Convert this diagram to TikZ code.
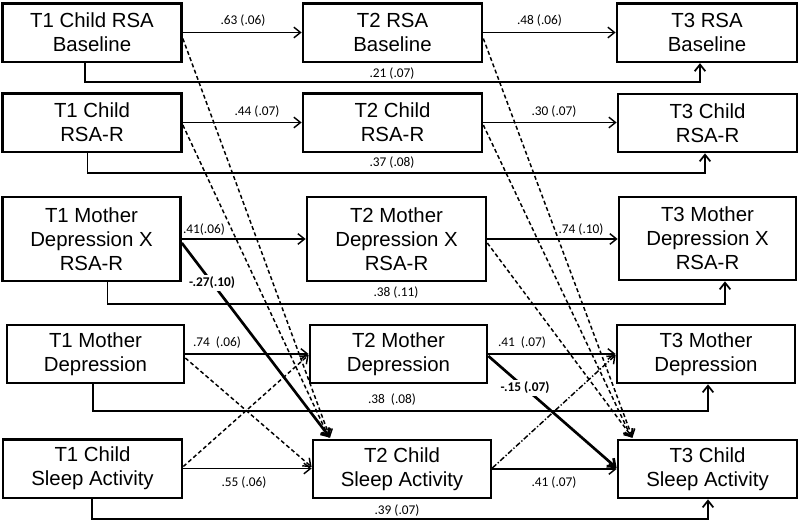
\documentclass[tikz,border=0pt]{standalone}
\usepackage{fontspec}
\setmainfont{Liberation Sans}
\newfontfamily\lblfont{Carlito}
\usetikzlibrary{arrows.meta,calc}
\begin{document}
\begin{tikzpicture}[x=0.75pt,y=-0.75pt,
  box/.style={draw, line width=2pt, align=center, inner sep=0pt,
    minimum width=134.25pt, minimum height=44pt,
    font=\fontsize{15.3}{18}\selectfont},
  tall/.style={minimum height=63pt},
  tip/.style={-{Straight Barb[length=5pt,width=8pt]}},
  arr/.style={line width=1.1pt, tip},
  conn/.style={line width=1.3pt, tip},
  dsh/.style={line width=1.1pt, dash pattern=on 3pt off 2pt, tip},
  dd/.style={line width=1.1pt, dash pattern=on 4pt off 1.5pt on 1pt off 1.5pt, tip},
  thk/.style={line width=2pt, tip},
  lbl/.style={font=\lblfont\fontsize{10}{12}\selectfont, inner sep=1pt},
  blbl/.style={font=\lblfont\bfseries\fontsize{10}{12}\selectfont, inner sep=1.5pt, fill=white}
]
\useasboundingbox (0,0) rectangle (800,521);

% T1 column
\node[box] (a1) at (92,32.5) {T1 Child RSA\\Baseline};
\node[box] (b1) at (92,122.5) {T1 Child\\RSA-R};
\node[box,tall,minimum width=133.5pt] (c1) at (91.5,239) {T1 Mother\\Depression X\\RSA-R};
\node[box,minimum width=132.75pt,minimum height=43.5pt] (d1) at (95.5,354) {T1 Mother\\Depression};
\node[box] (e1) at (92.5,468.5) {T1 Child\\Sleep Activity};

% T2 column
\node[box] (a2) at (392.5,32.5) {T2 RSA\\Baseline};
\node[box] (b2) at (392.5,122.5) {T2 Child\\RSA-R};
\node[box,tall] (c2) at (396.5,239) {T2 Mother\\Depression X\\RSA-R};
\node[box,minimum width=132.75pt,minimum height=43.5pt] (d2) at (398.5,354) {T2 Mother\\Depression};
\node[box,minimum width=133.5pt,minimum height=43.5pt] (e2) at (402,469) {T2 Child\\Sleep Activity};

% T3 column
\node[box,minimum width=135pt] (a3) at (707,32.5) {T3 RSA\\Baseline};
\node[box,minimum height=43.5pt] (b3) at (707.5,123) {T3 Child\\RSA-R};
\node[box,tall,minimum width=132.75pt,minimum height=62.25pt] (c3) at (707.5,238.5) {T3 Mother\\Depression X\\RSA-R};
\node[box,minimum width=133.5pt,minimum height=43.5pt] (d3) at (706,354) {T3 Mother\\Depression};
\node[box,minimum height=43.5pt] (e3) at (707.5,469) {T3 Child\\Sleep Activity};

% horizontal stability paths
\draw[arr] (a1.east) -- (a1.east -| a2.west);
\draw[arr] (a2.east) -- (a2.east -| a3.west);
\draw[arr] (b1.east) -- (b1.east -| b2.west);
\draw[arr] (b2.east) -- (b2.east -| b3.west);
\draw[arr] (c1.east) -- (c1.east -| c2.west);
\draw[arr] (c2.east) -- (c2.east -| c3.west);
\draw[arr] (d1.east) -- (d1.east -| d2.west);
\draw[arr] (d2.east) -- (d2.east -| d3.west);
\draw[arr] (e1.east) -- (e1.east -| e2.west);
\draw[arr] (e2.east) -- (e2.east -| e3.west);

% long T1 -> T3 paths
\draw[conn] ($(a1.south)+(-7,0)$) -- ++(0,19) -| ($(a3.south)+(-7,0)$);
\draw[conn] ($(b1.south)+(-4.5,0)$) -- ++(0,20) -| ($(b3.south)+(-2.5,0)$);
\draw[conn] ($(c1.south)+(16,0)$) -- ++(0,22) -| ($(c3.south)+(17.5,0)$);
\draw[conn] ($(d1.south)+(-2.5,0)$) -- ++(0,27) -| ($(d3.south)+(2,0)$);
\draw[conn] ($(e1.south)+(-0.5,0)$) -- ++(0,20) -| ($(e3.south)+(0.5,0)$);

% cross-lagged T1 -> T2
\draw[dsh] ($(a1.east)+(0,6)$) -- ($(e2.north)+(-72,-1)$);
\draw[dsh] ($(b1.east)+(0,2.5)$) -- ($(e2.north)+(-73,-1)$);
\draw[thk] ($(c1.east)+(0,4)$) -- node[blbl,pos=0.204] {-.27(.10)} ($(e2.north)+(-72,-1)$);
\draw[dsh] ($(d1.east)+(0,4)$) -- ($(e2.west)+(0,-2)$);
\draw[dsh] ($(e1.east)+(0,-2)$) -- ($(d2.west)+(0,1)$);

% cross-lagged T2 -> T3
\draw[dsh] ($(a2.east)+(0,6)$) -- ($(e3.north)+(-75,-1)$);
\draw[dsh] ($(b2.east)+(0,2.5)$) -- ($(e3.north)+(-76,-1)$);
\draw[dsh] ($(c2.east)+(0,4)$) -- ($(e3.north)+(-75,-1)$);
\draw[thk] ($(d2.east)+(0,2)$) -- node[blbl,pos=0.286] {-.15 (.07)} ($(e3.west)+(0,-1)$);
\draw[dd] ($(e2.east)+(0,-1)$) -- ($(d3.west)+(0,1)$);

% labels
\node[lbl] (l1) at (243,21) {.63 (.06)};
\node[lbl] (l2) at (539.5,21) {.48 (.06)};
\node[lbl] (l3) at (392,74) {.21 (.07)};
\node[lbl] (l4) at (257,112) {.44 (.07)};
\node[lbl] (l5) at (554,112) {.30 (.07)};
\node[lbl] (l6) at (392,163) {.37 (.08)};
\node[lbl] (l7) at (204,230) {.41(.06)};
\node[lbl] (l8) at (581,230) {.74 (.10)};
\node[lbl] (l9) at (396,293) {.38 (.11)};
\node[lbl] (l10) at (217,343) {.74\ \ (.06)};
\node[lbl] (l11) at (522,343) {.41\ \ (.07)};
\node[lbl] (l12) at (392,400) {.38\ \ (.08)};
\node[lbl] (l13) at (244,483) {.55 (.06)};
\node[lbl] (l14) at (554,483) {.41 (.07)};
\node[lbl] (l15) at (397,511) {.39 (.07)};
\end{tikzpicture}
\end{document}
